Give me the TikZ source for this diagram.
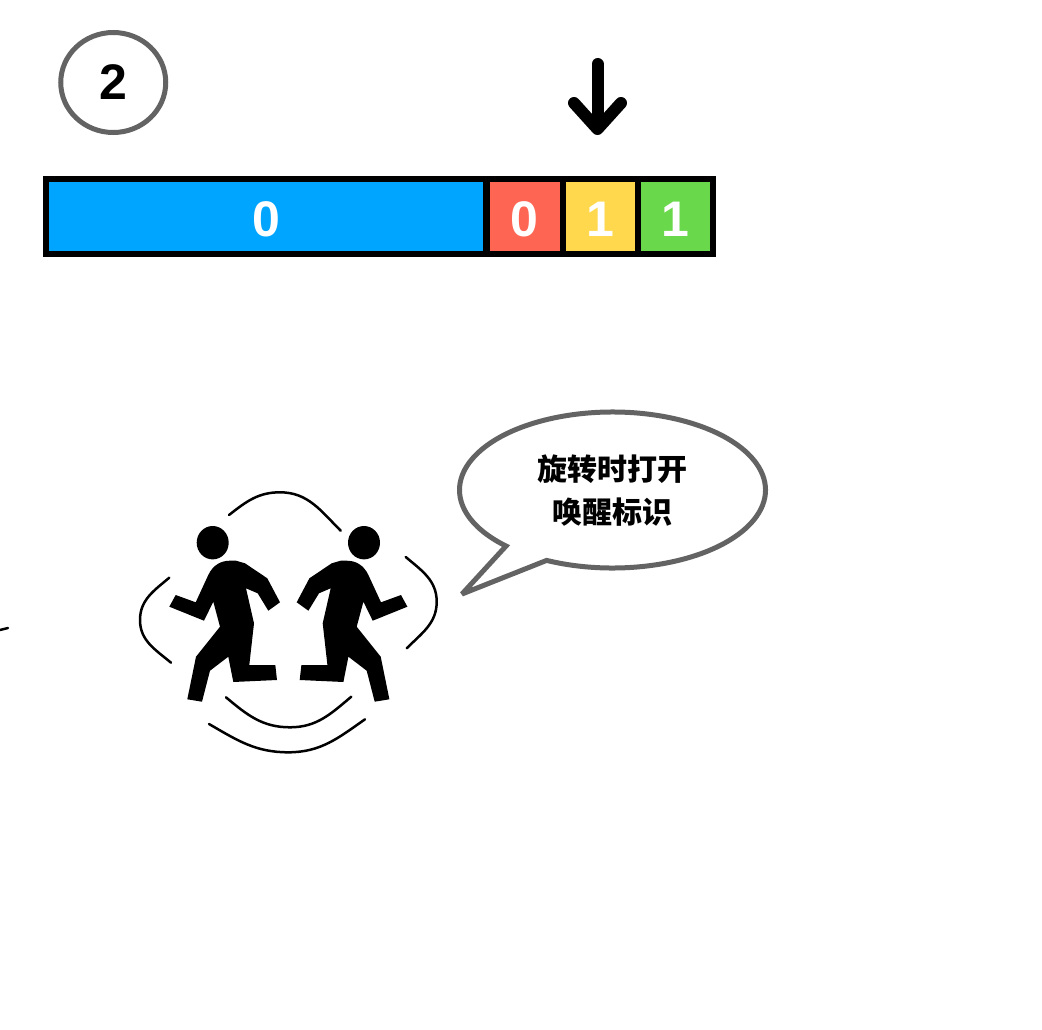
\documentclass[tikz,border=0pt]{standalone}
\usepackage{fontspec}
\setmainfont{Liberation Sans}
\newfontfamily\cjk{Noto Sans CJK SC}
\usetikzlibrary{shapes.geometric, arrows.meta}
\definecolor{barblue}{HTML}{00A5FF}
\definecolor{barred}{HTML}{FF6553}
\definecolor{baryellow}{HTML}{FFD84D}
\definecolor{bargreen}{HTML}{6AD84B}
\definecolor{edgegray}{HTML}{636363}
\tikzset{
    cell/.style={draw=black, line width=6pt, inner sep=0pt, outer sep=0pt, minimum height=75pt, text height=40pt, text depth=0pt, text=white, font=\fontsize{50}{60}\selectfont\bfseries},
    swoosh/.style={line width=2.5pt, line cap=round},
    runner/.pic={
        \fill (212.7,-542.7) ellipse [x radius=16, y radius=16.7];
        \fill (208.3,-575) .. controls (213,-565) and (221,-560.7) .. (230,-560.7) -- (236,-560.7) -- (245,-563.3) -- (267.3,-578.3) -- (280,-602.3) -- (268.3,-610.7) -- (257.7,-593.3) -- (246,-588.3) -- (254,-623.3) -- (249.3,-665) -- (275.3,-665) -- (277,-680) -- (233.3,-682) -- (228.3,-656.7) -- (210,-670.7) -- (202,-701.7) -- (187.3,-699.3) -- (196,-656.7) -- (220,-626.7) -- (213.3,-601.7) -- (204,-620.7) -- (169.3,-606.7) -- (175.7,-595) -- (195.7,-602.3) -- cycle;
    }
}
\begin{document}
\begin{tikzpicture}[x=1pt, y=1pt]
    \useasboundingbox (0,0) rectangle (1042,-1030);
    \node[draw=edgegray, ellipse, line width=5pt, minimum width=105pt, minimum height=100pt, inner sep=0pt, font=\fontsize{50}{60}\selectfont\bfseries] (step) at (113.25,-82.5) {2};
    \node[cell, fill=barblue, minimum width=440pt] (zero) at (266,-216.5) {0};
    \node[cell, fill=barred, minimum width=76.5pt] (first) at (524.75,-216.5) {0};
    \node[cell, fill=baryellow, minimum width=75pt] (second) at (600.5,-216.5) {1};
    \node[cell, fill=bargreen, minimum width=75pt] (third) at (675.5,-216.5) {1};
    \coordinate (arrowstart) at (597.5,-64);
    \coordinate (arrowend) at (597.5,-135);
    \draw[line width=12pt, line cap=round, -{Straight Barb[round, length=26pt, width=47pt]}] (arrowstart) -- (arrowend);
    \draw[edgegray, line width=5pt, miter limit=3, fill=white] (612.5,-490) ++(244.5:153 and 78) arc [start angle=244.5, end angle=585.9, x radius=153, y radius=78] -- (462,-594) -- cycle;
    \node[align=center, font=\cjk\bfseries\fontsize{30}{43}\selectfont] (wake) at (612.5,-490.5) {旋转时打开\\唤醒标识};
    \pic {runner};
    \pic[xshift=576.7pt, xscale=-1] {runner};
    \draw[swoosh] (229,-515) to[out=38, in=180] (280,-492.3) to[out=0, in=135] (340.7,-530.7);
    \draw[swoosh] (169.3,-577.7) to[out=220, in=90] (140,-620) to[out=-90, in=140] (171,-662.7);
    \draw[swoosh] (405.7,-557) to[out=-40, in=90] (436.7,-601.7) to[out=-90, in=45] (406.7,-648.3);
    \draw[swoosh] (226,-697.3) to[out=-40, in=180] (290,-727.3) to[out=0, in=-140] (351.3,-696.7);
    \draw[swoosh] (209,-724) to[out=-30, in=180] (288.3,-752.3) to[out=0, in=-145] (365,-719.3);
    \draw[swoosh] (0,-630) -- (8,-628);
\end{tikzpicture}
\end{document}
